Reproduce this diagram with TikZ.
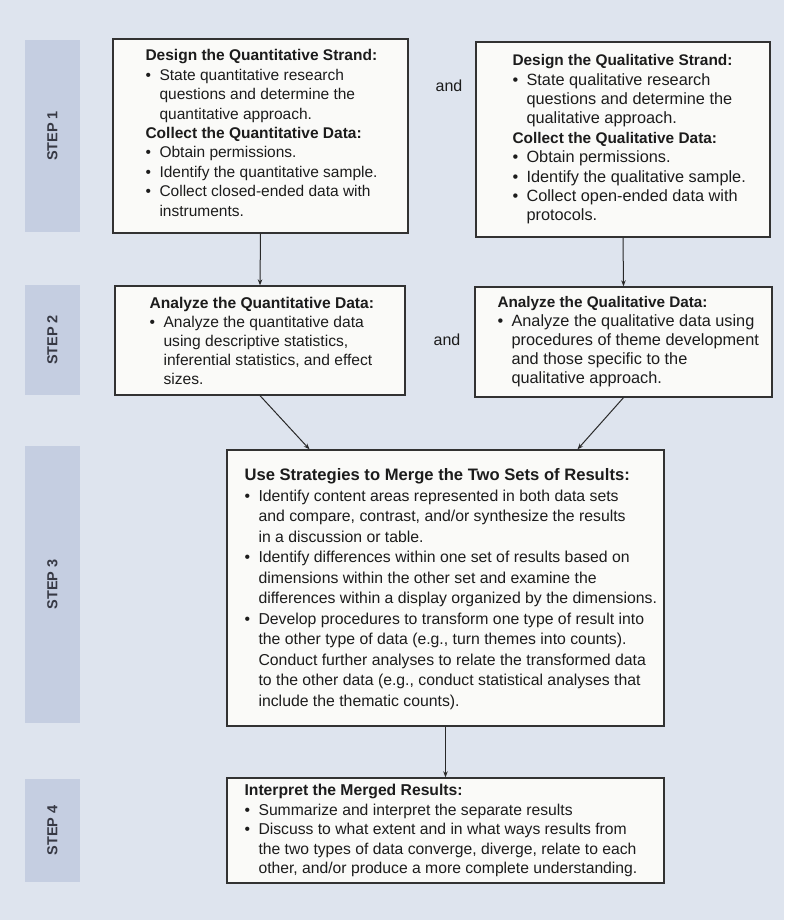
\documentclass[tikz,border=0pt]{standalone}
\usepackage{fontspec}
\setmainfont{Liberation Sans}
\usetikzlibrary{arrows.meta}
\definecolor{bgc}{RGB}{222,228,238}
\definecolor{stepc}{RGB}{197,206,225}
\definecolor{boxfill}{RGB}{250,250,248}
\definecolor{boxline}{RGB}{50,50,50}
\definecolor{txtc}{RGB}{28,28,28}
\definecolor{linec}{RGB}{40,40,40}
\definecolor{steptxt}{RGB}{55,57,68}
\newcommand{\bitem}[1]{\makebox[14pt][l]{•}#1}
\newcommand{\bcont}[1]{\hspace*{14pt}#1}
\newcommand{\hdr}[2]{{\fontsize{#1}{19}\selectfont\bfseries #2}}
\begin{document}
\begin{tikzpicture}[x=1pt,y=1pt,
  steprect/.style={fill=stepc, draw=none, minimum width=55pt, inner sep=0pt},
  steplbl/.style={rotate=90, inner sep=0pt, text=steptxt, font={\fontsize{14.5}{18}\selectfont\bfseries}},
  box/.style={draw=boxline, fill=boxfill, line width=1.3pt, inner sep=0pt},
  txt/.style={align=left, inner sep=0pt, text=txtc, anchor=west},
  andlbl/.style={inner sep=0pt, text=txtc, font={\fontsize{16}{19}\selectfont}},
  conn/.style={draw=linec, line width=1pt, -{Stealth[length=6pt,width=4.5pt]}}
]
\fill[bgc] (0,0) rectangle (784,920);
\useasboundingbox (0,0) rectangle (784,920);

% step labels
\node[steprect, minimum height=192pt] (S1) at (52.5,784) {};
\node[steplbl] (S1t) at (S1) {STEP 1};
\node[steprect, minimum height=110pt] (S2) at (52.5,580) {};
\node[steplbl] (S2t) at (S2) {STEP 2};
\node[steprect, minimum height=277pt] (S3) at (52.5,335.5) {};
\node[steplbl] (S3t) at (S3) {STEP 3};
\node[steprect, minimum height=103pt] (S4) at (52.5,89.5) {};
\node[steplbl] (S4t) at (S4) {STEP 4};

% boxes
\node[box, minimum width=295pt, minimum height=194pt] (Q1) at (260.5,784) {};
\node[box, minimum width=294pt, minimum height=195pt] (L1) at (623,780.5) {};
\node[box, minimum width=290pt, minimum height=109pt] (Q2) at (260,579.5) {};
\node[box, minimum width=297pt, minimum height=110pt] (L2) at (623.5,578) {};
\node[box, minimum width=437pt, minimum height=276pt] (B3) at (445.5,332) {};
\node[box, minimum width=437pt, minimum height=105pt] (B4) at (445.5,89.5) {};

% texts
\node[txt, font={\fontsize{15.5}{19.4}\selectfont}] (Q1t) at ([xshift=33pt,yshift=3pt]Q1.west) {%
\textbf{Design the Quantitative Strand:}\\
\bitem{State quantitative research}\\
\bcont{questions and determine the}\\
\bcont{quantitative approach.}\\
\textbf{Collect the Quantitative Data:}\\
\bitem{Obtain permissions.}\\
\bitem{Identify the quantitative sample.}\\
\bitem{Collect closed-ended data with}\\
\bcont{instruments.}};

\node[txt, font={\fontsize{16.3}{19.4}\selectfont}] (L1t) at ([xshift=37pt,yshift=0pt]L1.west) {%
\hdr{15.4}{Design the Qualitative Strand:}\\
\bitem{State qualitative research}\\
\bcont{questions and determine the}\\
\bcont{qualitative approach.}\\
\hdr{15.4}{Collect the Qualitative Data:}\\
\bitem{Obtain permissions.}\\
\bitem{Identify the qualitative sample.}\\
\bitem{Collect open-ended data with}\\
\bcont{protocols.}};

\node[txt, font={\fontsize{15.6}{19}\selectfont}] (Q2t) at ([xshift=35pt]Q2.west) {%
\textbf{Analyze the Quantitative Data:}\\
\bitem{Analyze the quantitative data}\\
\bcont{using descriptive statistics,}\\
\bcont{inferential statistics, and effect}\\
\bcont{sizes.}};

\node[txt, font={\fontsize{16.3}{19}\selectfont}] (L2t) at ([xshift=23pt]L2.west) {%
\hdr{15.3}{Analyze the Qualitative Data:}\\
\bitem{Analyze the qualitative data using}\\
\bcont{procedures of theme development}\\
\bcont{and those specific to the}\\
\bcont{qualitative approach.}};

\node[txt, font={\fontsize{15.8}{20.5}\selectfont}] (B3t) at ([xshift=18pt,yshift=-1pt]B3.west) {%
\hdr{16.6}{Use Strategies to Merge the Two Sets of Results:}\\
\bitem{Identify content areas represented in both data sets}\\
\bcont{and compare, contrast, and/or synthesize the results}\\
\bcont{in a discussion or table.}\\
\bitem{Identify differences within one set of results based on}\\
\bcont{dimensions within the other set and examine the}\\
\bcont{differences within a display organized by the dimensions.}\\
\bitem{Develop procedures to transform one type of result into}\\
\bcont{the other type of data (e.g., turn themes into counts).}\\
\bcont{Conduct further analyses to relate the transformed data}\\
\bcont{to the other data (e.g., conduct statistical analyses that}\\
\bcont{include the thematic counts).}};

\node[txt, font={\fontsize{15.7}{19.5}\selectfont}] (B4t) at ([xshift=18pt]B4.west) {%
\textbf{Interpret the Merged Results:}\\
\bitem{Summarize and interpret the separate results}\\
\bitem{Discuss to what extent and in what ways results from}\\
\bcont{the two types of data converge, diverge, relate to each}\\
\bcont{other, and/or produce a more complete understanding.}};

% "and" labels
\node[andlbl] (and1) at (449,834) {and};
\node[andlbl] (and2) at (447,580) {and};

% connectors
\draw[conn] (Q1.south) -- (Q2.north);
\draw[conn] (L1.south) -- (L2.north);
\draw[conn] (Q2.south) -- ([xshift=-136pt]B3.north);
\draw[conn] (L2.south) -- ([xshift=132pt]B3.north);
\draw[conn] (B3.south) -- (B4.north);
\end{tikzpicture}
\end{document}
